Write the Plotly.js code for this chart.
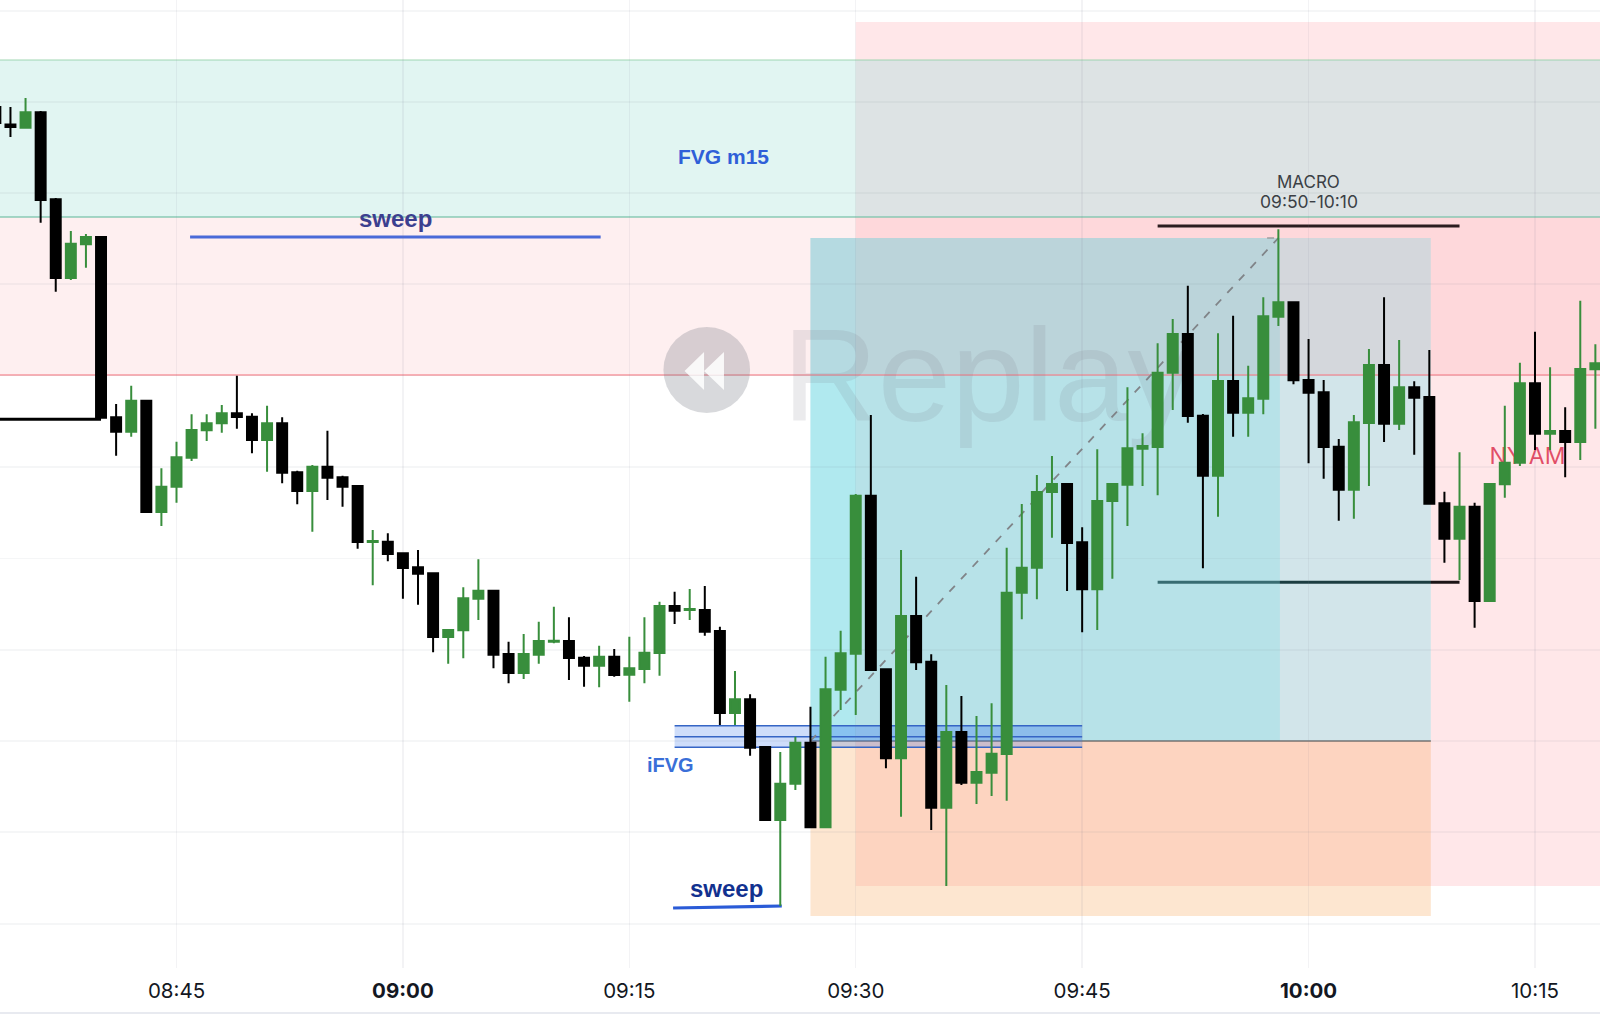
<!DOCTYPE html>
<html>
<head>
<meta charset="utf-8">
<script src="https://cdn.plot.ly/plotly-3.0.1.min.js"></script>
<style>html,body{margin:0;padding:0;background:#fff}#chart{width:1600px;height:1033px}</style>
</head>
<body>
<div id="chart"></div>
<script>
// One-minute bars, price units with no printed scale
const firstBar = "08:33";
const open = [
926,908.5,905.3,920.7,833.7,755,788.7,796,615.7,601.3,
632.3,521,546.3,575.3,602.7,609.7,619.7,616.3,593,609.7,
560.7,542,566.3,555.7,547,491,491.3,479.7,465.7,459.7,
396,402.7,434.3,442.3,379,360,378.3,391.3,392,375.3,
367.3,376.3,358.3,364,380,427,423,423,402,320,
333.7,286,213,249.3,290.3,205.7,343.3,379.3,537.3,363.7,
274.7,417,371.3,225.3,301,250.3,260.3,279,440.3,465.3,
541,549,490.7,443.7,532,548.3,584.3,586,660.3,699,
617.3,557.3,652,620.3,634.3,716.3,730.7,653,640.7,586.3,
543.3,610,668,609.3,645.7,636,529.7,494.3,526.3,432,
548.7,570.3,649.7,599.3,602,591,663.7];
const high = [
926,926,935,922,835,802,799,796,629,647.3,
632.3,564.7,591.3,618.7,618.7,628,657.3,619.7,627.3,615.7,
562.3,568,602.3,557.3,548,503,499.7,479.7,483,459.7,
404,445.7,473.7,442.3,391.3,399,411.3,426.3,415.7,377,
387.3,384,396.3,415.7,431.3,441.3,444,447,406.3,362,
338.7,286,281,296.3,326.3,376.3,402.3,539,618,363.7,
483,456.3,378.7,348,337,317,329.7,485.3,529,558,
577,549,505.7,583.7,549,645.7,599.7,689.7,714,747.3,
619,699.7,717.3,667.3,735.7,803.7,730.7,694,653,594,
618,684,735.7,693,651.7,683,541.3,580.7,530.3,549,
627.3,670.3,701.3,665.7,625.7,732.3,688.7];
const low = [
909,896,905,810.3,741.3,753,765.3,615.3,577.3,596.3,
521,507,530.3,572,592,600.3,604.3,579.7,561.3,549.7,
528.7,501.3,533,526.3,484.3,447.7,471.7,434.3,428.3,380.7,
369.3,374.7,413,364.7,349.7,354,369.3,389.7,353,346.3,
345.7,356.3,331.3,349.7,357.3,409,413,397.3,308,308,
277.3,213,127,243,205.7,205.7,323,318,363,264.7,
216.3,363,203,147,248,229,237,232.3,413.7,433.7,
495.3,442,400.7,403,454.3,507,547,537.7,623,610.3,
464.7,516.3,596.3,596.3,618.7,707,648.7,569.7,554.3,512.3,
514.3,547,591,603,578.3,529.3,470.3,453,405.3,432,
535.3,567,583,583,555.7,573,604.3];
const close = [
910,906,920.7,833,755,789.3,796,615.3,601.3,632.3,
521,546.3,575.7,603,609.7,619.7,616,593,609.7,560.3,
542,566.3,555.3,546.3,491,492,479,465,459.3,396,
403,434.7,442.3,378.3,360,379,392,392.3,375,367.3,
376.3,358,364.7,380.3,427,422.3,424,401.3,320,333.7,
285.3,213,249.3,290.3,205.7,343.7,379.7,537.3,363,274.7,
417,370.7,225.3,301,250.3,261,279.3,440.3,465.3,541,
549,490,443.7,532,549,584.7,587,660.3,699,617,
557.3,652,620.3,634.7,716.7,730.7,652.7,640.3,586,543.3,
610.7,668,609.3,645.7,635.3,529.3,494.3,526.3,432,549,
570.3,649.7,599.3,602,591,664,669.7];

const timeTicks = ["08:45","09:00","09:15","09:30","09:45","10:00","10:15"];
const boldTicks = ["09:00","10:00"];
const priceGrid = [1022,931,840,749,657.5,566,474.5,383,292,201,109];

// Levels and zones, in price units
const fvgM15 = [816,973];
const premium = [658,816];
const nySession = [147,1011];
const position = {target:795, entry:292, stop:117};
const ifvg = [285.7,296.3,307.3];
const macroLevels = [807,450.7];

const GREEN = "#388E3C", BLACK = "#000000";
const mins = s => { const [h,m] = s.split(":").map(Number); return h*60+m; };
const x = open.map((_,i) => mins(firstBar)+i);
const XMIN = 513.307, XMAX = 619.307;

const rect = (x0,x1,y0,y1,fill,extra) => Object.assign({type:"rect",xref:"x",yref:"y",layer:"below",x0,x1,y0,y1,fillcolor:fill,line:{width:0}},extra||{});
const seg = (x0,x1,y0,y1,color,width,dash) => ({type:"line",xref:"x",yref:"y",layer:"below",x0,x1,y0,y1,line:{color,width,dash:dash||"solid"}});

const ep = mins("09:27"), ec = mins("09:58"), ee = mins("10:08");
const ny = mins("09:30");
const shapes = [
  rect(ny,XMAX+1,nySession[0],nySession[1],"rgba(255,0,16,0.095)"),
  // level lines that sit under the position tool
  seg(mins("09:50"),mins("10:10"),macroLevels[1],macroLevels[1],"#1c1416",3),
  // long position tool
  rect(ep,ee+0.1,position.entry,position.target,"rgba(30,225,240,0.20)"),
  rect(ep,ec+0.1,position.entry,position.target,"rgba(123,217,227,0.30)"),
  rect(ep,ny,position.entry,position.target,"rgba(120,180,190,0.10)"),
  rect(ep,ee+0.1,position.stop,position.entry,"rgba(248,165,85,0.28)"),
  seg(ep,ee+0.1,position.entry,position.entry,"rgba(90,90,90,0.8)",1.5),
  // iFVG band
  rect(mins("09:18"),mins("09:45"),ifvg[0],ifvg[2],"rgba(60,120,235,0.25)"),
  rect(ep,mins("09:45"),position.entry,ifvg[2],"rgba(60,120,255,0.12)"),
  seg(mins("09:18"),mins("09:45"),ifvg[0],ifvg[0],"#3565C5",1.6),
  seg(mins("09:18"),mins("09:45"),ifvg[1],ifvg[1],"#3565C5",1.6),
  seg(mins("09:18"),mins("09:45"),ifvg[2],ifvg[2],"#3565C5",1.6),
  // zones
  rect(XMIN-1,XMAX+1,premium[0],premium[1],"rgba(242,54,69,0.08)"),
  rect(XMIN-1,XMAX+1,fvgM15[0],fvgM15[1],"rgba(135,215,205,0.25)"),
  rect(ny,XMAX+1,fvgM15[0],fvgM15[1],"rgba(190,240,255,0.10)"),
  seg(XMIN-1,XMAX+1,fvgM15[1],fvgM15[1],"rgba(150,210,170,0.6)",1.3),
  seg(XMIN-1,XMAX+1,fvgM15[0],fvgM15[0],"rgba(120,195,170,0.85)",1.6),
  seg(XMIN-1,XMAX+1,premium[0],premium[0],"rgba(245,130,140,0.8)",1.6),
  // drawn levels
  seg(XMIN-1,mins("08:40"),613.7,613.7,BLACK,3),
  seg(mins("09:50"),mins("10:10"),macroLevels[0],macroLevels[0],"#2b1d1f",3),
  seg(525.9,553.1,796,796,"#4A6AD8",3),
  seg(557.9,565.1,125,127,"#2A5BD7",3.2),
  seg(ep,ec,position.entry,position.target,"#808488",1.8,"8px,9px"),
  seg(597.25,ec,position.target,position.target,"#9a9a9a",1.4,"7px,9px"),
  // Replay watermark
  {type:"circle",xref:"x",yref:"y",layer:"below",x0:557.26,x1:563.0,y0:620,y1:706,fillcolor:"rgba(120,123,134,0.29)",line:{width:0}},
  {type:"path",xref:"x",yref:"y",layer:"below",path:"M 559.95 681 L 558.66 662 L 559.95 643 Z M 561.27 681 L 559.95 662 L 561.27 643 Z",fillcolor:"rgba(255,255,255,0.85)",line:{width:0}},
  rect(564.75,595,623,718,"rgba(0,0,0,0)",{label:{text:"Replay",textposition:"middle left",font:{family:"Liberation Sans",size:132,color:"rgba(120,123,134,0.15)"}}}),
  rect(610,619,560,596,"rgba(0,0,0,0)",{label:{text:"NY AM",textposition:"middle center",font:{family:"Inter",size:23,color:"rgba(220,50,80,0.85)"}}}),
  // footer rule under the time scale
  {type:"line",xref:"paper",yref:"paper",x0:0,x1:1,y0:-0.0465,y1:-0.0465,line:{color:"#E0E3EB",width:1.5}}
];

const note = (text,xv,yv,color,size,bold,family) => ({
  text: bold ? "<b>"+text+"</b>" : text, x:xv, y:yv, xref:"x", yref:"y", showarrow:false,
  font:{family:family||"Liberation Sans",size,color}, xanchor:"center", yanchor:"middle"
});
const annotations = [
  note("FVG m15",561.27,877,"#2F5FD8",21,true),
  note("sweep",539.48,815,"#3C3F8F",24,true),
  note("sweep",561.47,145,"#12318F",24,true),
  note("iFVG",557.76,268.5,"#3A6FD8",20,true),
  note("MACRO",600,851,"#3b3f45",17,false,"Inter"),
  note("09:50-10:10",600,832,"#3b3f45",17.5,false,"Inter")
];

const trace = {
  type:"candlestick", x, open, high, low, close,
  increasing:{line:{color:GREEN,width:2},fillcolor:GREEN},
  decreasing:{line:{color:BLACK,width:2},fillcolor:BLACK},
  whiskerwidth:0, hoverinfo:"skip", showlegend:false
};

const layout = {
  width:1600, height:1033,
  margin:{l:0,r:0,t:0,b:65,pad:0},
  paper_bgcolor:"#ffffff", plot_bgcolor:"#ffffff",
  showlegend:false, boxgap:0.34, boxgroupgap:0,
  font:{family:"Inter",color:"#131722"},
  xaxis:{
    type:"linear", range:[XMIN,XMAX], rangeslider:{visible:false},
    tickmode:"array", tickvals:timeTicks.map(mins),
    ticktext:timeTicks.map(t => boldTicks.includes(t) ? "<b>"+t+"</b>" : t),
    tickfont:{family:"Inter",size:20.5,color:"#131722"}, ticklabelstandoff:8,
    ticks:"", showline:false, zeroline:false,
    showgrid:true, gridcolor:"rgba(120,125,140,0.09)", gridwidth:1.5, automargin:false
  },
  yaxis:{
    range:[65,1033], tickmode:"array", tickvals:priceGrid, showticklabels:false,
    ticks:"", showline:false, zeroline:false,
    showgrid:true, gridcolor:"rgba(120,125,140,0.07)", gridwidth:1.5, automargin:false
  },
  shapes, annotations
};
Plotly.newPlot("chart",[trace],layout,{displayModeBar:false,staticPlot:true});
</script>
</body>
</html>
